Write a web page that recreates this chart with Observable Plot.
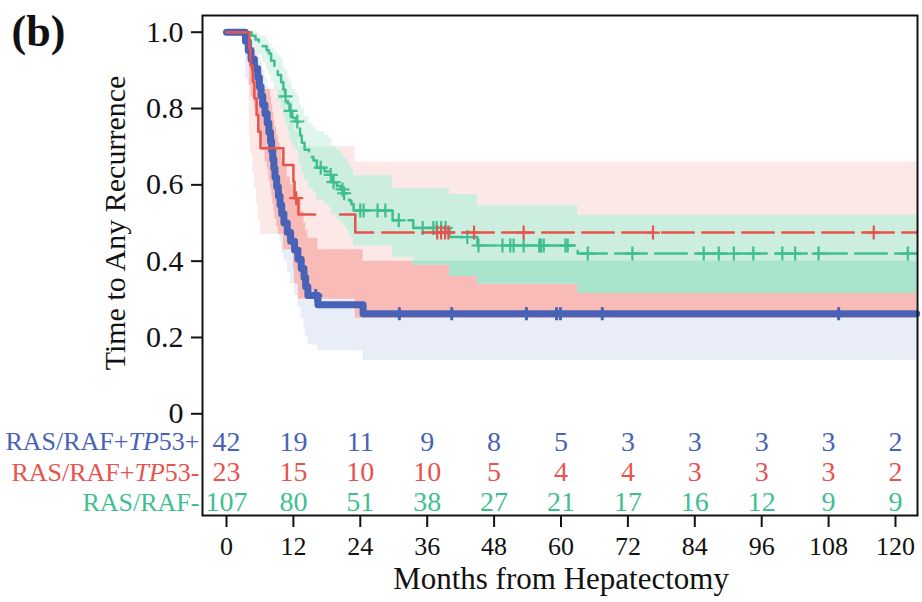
<!DOCTYPE html>
<html><head><meta charset="utf-8">
<script src="https://cdn.jsdelivr.net/npm/d3@7"></script>
<script src="https://cdn.jsdelivr.net/npm/@observablehq/plot@0.6"></script>
<style>
html,body{margin:0;padding:0;background:#fff;}
#chart{width:922px;height:602px;overflow:hidden;}
</style></head><body><div id="chart"></div>
<script>
// ---------- data ----------
const groups = ["RAS/RAF+TP53+", "RAS/RAF+TP53-", "RAS/RAF-"];
const groupColors = ["#4762b6", "#e8534d", "#3fbf8f"];

const blueTime  = [0, 3.4, 3.9, 4.4, 5.0, 5.6, 5.9, 6.2, 6.5, 6.9, 7.3, 7.6, 7.9, 8.1, 8.3, 8.5, 8.7, 9.0, 9.3, 9.6, 9.9, 10.3, 10.9, 11.5, 12.2, 12.8, 13.4, 13.9, 14.2, 14.6, 16.4, 24.5];
const blueSurv  = [1, .976, .952, .929, .905, .881, .857, .833, .810, .786, .762, .738, .714, .690, .667, .643, .619, .595, .571, .548, .524, .500, .476, .452, .429, .405, .381, .357, .333, .310, .286, .262];
const blueLower = [1, .88, .86, .83, .80, .77, .74, .71, .69, .66, .64, .61, .59, .57, .55, .53, .51, .49, .47, .45, .42, .40, .37, .34, .31, .28, .25, .22, .20, .18, .165, .14];
const blueUpper = [1, .997, .99, .98, .965, .95, .93, .92, .90, .88, .86, .85, .83, .81, .79, .77, .75, .73, .71, .69, .67, .65, .62, .60, .58, .56, .53, .50, .48, .46, .43, .40];
const blueCensor = [16.0, 31.0, 40.4, 53.8, 59.2, 59.9, 67.4, 109.8];

const redTime  = [0, 4.1, 4.3, 4.7, 5.0, 5.4, 5.7, 6.1, 10.2, 12.0, 12.2, 12.9, 23.1];
const redSurv  = [1, .957, .913, .870, .826, .783, .739, .696, .652, .609, .565, .522, .475];
const redLower = [1, .73, .68, .63, .59, .55, .51, .47, .43, .38, .34, .30, .25];
const redUpper = [1, .995, .98, .96, .94, .91, .88, .85, .82, .78, .74, .70, .66];
const redCensor = [12.5, 37.8, 38.5, 39.2, 39.8, 44.4, 53.3, 76.5, 116.1];

const greenTime  = [0, 4.5, 5.2, 5.8, 6.5, 7.2, 7.6, 8.0, 8.6, 9.2, 9.8, 10.2, 10.5, 11.0, 11.3, 11.8, 12.4, 12.9, 13.2, 13.5, 14.0, 14.8, 15.6, 16.2, 17.6, 18.4, 18.9, 19.8, 20.5, 21.0, 21.6, 22.0, 22.4, 22.8, 29.8, 33.5, 40.0, 45.0, 63.0];
const greenSurv  = [1, .991, .981, .972, .963, .953, .944, .925, .907, .888, .869, .850, .832, .813, .794, .776, .766, .748, .729, .710, .692, .673, .664, .645, .635, .626, .607, .597, .588, .578, .568, .559, .549, .533, .507, .487, .463, .441, .420];
const greenLower = [1, .97, .95, .94, .92, .90, .89, .87, .85, .82, .80, .78, .76, .74, .72, .70, .69, .67, .65, .63, .61, .59, .58, .56, .55, .54, .52, .51, .50, .49, .48, .47, .46, .44, .41, .39, .36, .34, .315];
const greenUpper = [1, 1, 1, .99, .99, .98, .97, .96, .95, .94, .93, .91, .90, .88, .87, .85, .84, .83, .81, .80, .78, .76, .75, .74, .73, .72, .70, .69, .68, .67, .66, .65, .64, .624, .59, .59, .575, .545, .52];
const greenCensor = [10.6, 11.5, 12.7, 16.9, 18.7, 19.2, 20.8, 21.1, 24.0, 24.6, 27.1, 28.5, 30.9, 35.2, 37.1, 37.7, 38.5, 39.3, 43.2, 45.2, 49.5, 50.9, 51.5, 53.3, 56.1, 56.4, 56.9, 60.8, 61.2, 64.8, 72.8, 85.6, 88.3, 91.0, 94.5, 99.7, 102.0, 106.2, 122.2];

const endTime = 123.8;
const riskTimes = [0, 12, 24, 36, 48, 60, 72, 84, 96, 108, 120];
const riskBlue  = [42, 19, 11, 9, 8, 5, 3, 3, 3, 3, 2];
const riskRed   = [23, 15, 10, 10, 5, 4, 4, 3, 3, 3, 2];
const riskGreen = [107, 80, 51, 38, 27, 21, 17, 16, 12, 9, 9];
const yTicks = [0, 0.2, 0.4, 0.6, 0.8, 1.0];

// ---------- layout & style ----------
const FONT = "'Liberation Serif','Times New Roman',Times,serif";
const pxPerMonth = (895 - 226) / 120;
const xDomain = [(202 - 226) / pxPerMonth, (917 - 226) / pxPerMonth];
const pxPerUnit = 381.6, y0px = 413.3;
const yDomain = [(y0px - 515) / pxPerUnit, (y0px - 15) / pxPerUnit];
const rowY = [-0.073, -0.153, -0.232];
// dash patterns (pixels along the path)
const redDash = [271, 25, 51, 9].concat(Array.from({length: 20}, () => [31.6, 8.4]).flat()).join(",");
const greenDash = "31.6,8.4";

// ---------- helpers ----------
function idxAt(time, t) { let i = 0; for (let k = 0; k < time.length; k++) if (time[k] <= t) i = k; return i; }
function curve(time, surv) {
  const rows = time.map((t, i) => ({t, s: surv[i]}));
  rows.push({t: endTime, s: surv[surv.length - 1]});
  return rows;
}
function censors(time, surv, cs) { return cs.map(c => ({t: c, s: surv[idxAt(time, c)]})); }

const G = [
  {time: blueTime, lo: blueLower, hi: blueUpper},
  {time: redTime, lo: redLower, hi: redUpper},
  {time: greenTime, lo: greenLower, hi: greenUpper}
];
const grid = Array.from(new Set([...blueTime, ...redTime, ...greenTime, endTime])).sort((a, b) => a - b);
const band = grid.map(t => {
  const r = {t};
  G.forEach((g, k) => { const i = idxAt(g.time, t); r["lo" + k] = g.lo[i]; r["hi" + k] = g.hi[i]; });
  return r;
});
function inter(ks) {
  const lo = d => Math.max(...ks.map(k => d["lo" + k]));
  return {y1: lo, y2: d => Math.max(lo(d), Math.min(...ks.map(k => d["hi" + k])))};
}

const plusSymbol = {
  draw(ctx, size) {
    const r = Math.sqrt(size / Math.PI);
    ctx.moveTo(-r, 0); ctx.lineTo(r, 0);
    ctx.moveTo(0, -r); ctx.lineTo(0, r);
  }
};

const riskSets = [riskBlue, riskRed, riskGreen];
const marks = [
  // confidence bands (and their overlaps)
  Plot.areaY(band, {x: "t", ...inter([0]), curve: "step-after", fill: "#e9edf8"}),
  Plot.areaY(band, {x: "t", ...inter([1]), curve: "step-after", fill: "#fde8e8"}),
  Plot.areaY(band, {x: "t", ...inter([0, 1]), curve: "step-after", fill: "#f8bbb7"}),
  Plot.areaY(band, {x: "t", ...inter([2]), curve: "step-after", fill: "#e0f6ec"}),
  Plot.areaY(band, {x: "t", ...inter([1, 2]), curve: "step-after", fill: "#cbeedf"}),
  Plot.areaY(band, {x: "t", ...inter([0, 1, 2]), curve: "step-after", fill: "#a9e4cc"}),
  // survival curves with censor marks
  Plot.line(curve(blueTime, blueSurv), {x: "t", y: "s", curve: "step-after", stroke: groupColors[0], strokeWidth: 7}),
  Plot.dot(censors(blueTime, blueSurv, blueCensor), {x: "t", y: "s", symbol: plusSymbol, r: 6.5, stroke: groupColors[0], strokeWidth: 3, fill: "none"}),
  Plot.line(curve(greenTime, greenSurv), {x: "t", y: "s", curve: "step-after", stroke: groupColors[2], strokeWidth: 2.5, strokeDasharray: greenDash, strokeDashoffset: 30}),
  Plot.dot(censors(greenTime, greenSurv, greenCensor), {x: "t", y: "s", symbol: plusSymbol, r: 7, stroke: groupColors[2], strokeWidth: 2.2, fill: "none"}),
  Plot.line(curve(redTime, redSurv), {x: "t", y: "s", curve: "step-after", stroke: groupColors[1], strokeWidth: 2.5, strokeDasharray: redDash}),
  Plot.dot(censors(redTime, redSurv, redCensor), {x: "t", y: "s", symbol: plusSymbol, r: 7, stroke: groupColors[1], strokeWidth: 2.2, fill: "none"}),
  // frame and axes
  Plot.frame({stroke: "#111", strokeWidth: 2}),
  Plot.axisX(riskTimes, {tickSize: 12, tickPadding: 9, fontSize: 26, strokeWidth: 2, stroke: "#111", fill: "#111", label: null, tickFormat: d => String(d)}),
  Plot.axisY(yTicks, {tickSize: 11, tickPadding: 8, fontSize: 30, strokeWidth: 2, stroke: "#111", fill: "#111", label: null, tickFormat: d => d === 0 ? "0" : d.toFixed(1)}),
  // titles
  Plot.text(["Time to Any Recurrence"], {y: () => 0.5, frameAnchor: "left", dx: -87, rotate: -90, textAnchor: "middle", lineAnchor: "middle", fontSize: 30, fill: "#111", text: d => d}),
  Plot.text(["Months from Hepatectomy"], {x: () => 60, frameAnchor: "bottom", dy: 64, textAnchor: "middle", lineAnchor: "middle", fontSize: 31, fill: "#111", text: d => d}),
  Plot.text(["(b)"], {y: () => 1.0, frameAnchor: "left", dx: -164, textAnchor: "middle", lineAnchor: "middle", fontSize: 44, fontWeight: "bold", fill: "#111", text: d => d})
];
// number-at-risk table
groups.forEach((g, k) => {
  marks.push(Plot.text(riskTimes.map((t, i) => ({t, n: riskSets[k][i]})), {x: "t", y: () => rowY[k], text: d => String(d.n), fontSize: 28, fill: groupColors[k]}));
  marks.push(Plot.text([g], {y: () => rowY[k], frameAnchor: "left", dx: -3, textAnchor: "end", lineAnchor: "middle", fontSize: 26, fill: groupColors[k], text: d => d}));
});

const chart = Plot.plot({
  width: 922, height: 602,
  marginLeft: 202, marginRight: 5, marginTop: 15, marginBottom: 87,
  x: {domain: xDomain},
  y: {domain: yDomain},
  style: {fontFamily: FONT, background: "white", color: "#111"},
  marks
});
document.getElementById("chart").appendChild(chart);

// italic "TP" in the row labels
chart.querySelectorAll("text").forEach(el => {
  const m = el.textContent.match(/^(RAS\/RAF\+)(TP)(53[+-])$/);
  if (m) {
    while (el.firstChild) el.removeChild(el.firstChild);
    const ns = "http://www.w3.org/2000/svg";
    [m[1], m[2], m[3]].forEach((part, i) => {
      const ts = document.createElementNS(ns, "tspan");
      ts.textContent = part;
      if (i === 1) ts.setAttribute("font-style", "italic");
      el.appendChild(ts);
    });
  }
});
</script></body></html>
